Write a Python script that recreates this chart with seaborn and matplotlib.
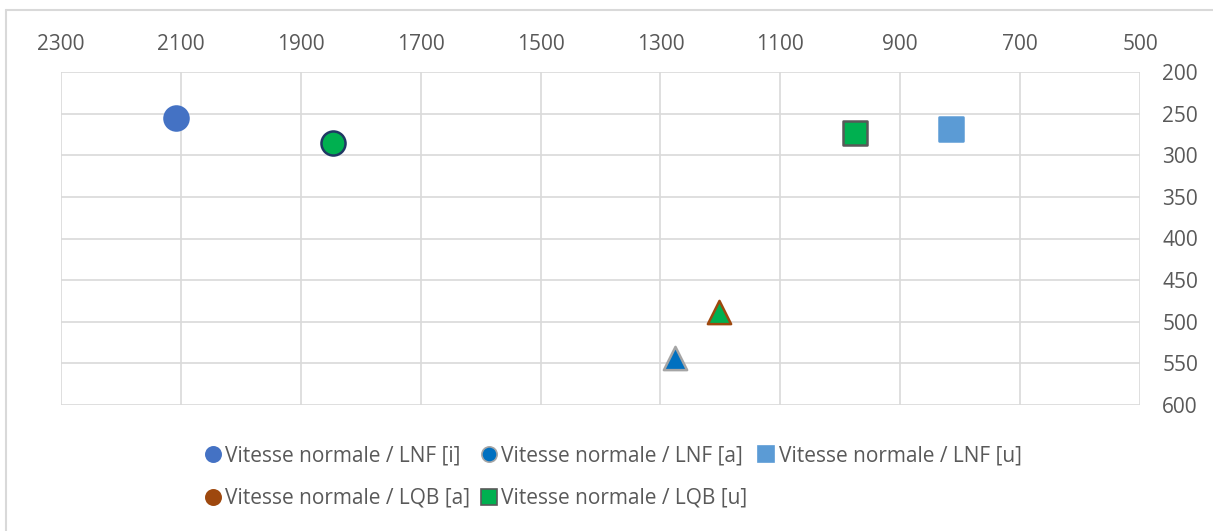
import numpy as np
import pandas as pd
import matplotlib
matplotlib.use('Agg')
import matplotlib.pyplot as plt
import seaborn as sns
from matplotlib.lines import Line2D

# Données (F2 en abscisse, F1 en ordonnée)
series_names = ['Vitesse normale / LNF [i]', 'Vitesse normale / LQB [i]',
                'Vitesse normale / LNF [a]', 'Vitesse normale / LQB [a]',
                'Vitesse normale / LNF [u]', 'Vitesse normale / LQB [u]']
f2_values = [2108, 1847, 1276, 1202, 815, 976]
f1_values = [255, 285, 544, 488, 268, 273]

x_ticks = [2300, 2100, 1900, 1700, 1500, 1300, 1100, 900, 700, 500]
y_ticks = [200, 250, 300, 350, 400, 450, 500, 550, 600]

# Style des marqueurs (couleur, contour, forme)
styles = {
    'Vitesse normale / LNF [i]': ('#4472C4', '#4472C4', 'o'),
    'Vitesse normale / LQB [i]': ('#00B050', '#203864', 'o'),
    'Vitesse normale / LNF [a]': ('#0070C0', '#A5A5A5', '^'),
    'Vitesse normale / LQB [a]': ('#00B050', '#9E480E', '^'),
    'Vitesse normale / LNF [u]': ('#5B9BD5', '#5B9BD5', 's'),
    'Vitesse normale / LQB [u]': ('#00B050', '#595959', 's'),
}
sizes = {'o': 300, '^': 280, 's': 300}

df = pd.DataFrame({'serie': series_names, 'F2': f2_values, 'F1': f1_values})

sns.set_theme(style='white')
plt.rcParams['font.family'] = ['Open Sans', 'DejaVu Sans']
text_color = '#595959'
fs = 15

fig = plt.figure(figsize=(12.13, 5.31), dpi=100)
ax = fig.add_axes([61 / 1213, 1 - 405 / 531, (1140 - 61) / 1213, (405 - 72) / 531])

for name in series_names:
    face, edge, marker = styles[name]
    sub = df[df['serie'] == name]
    sns.scatterplot(data=sub, x='F2', y='F1', ax=ax, color=face, edgecolor=edge,
                    marker=marker, s=sizes[marker], linewidth=1.8, zorder=3, legend=False)

ax.set_xlim(2300, 500)
ax.set_ylim(600, 200)
ax.set_xticks(x_ticks)
ax.set_yticks(y_ticks)
ax.xaxis.tick_top()
ax.yaxis.tick_right()
ax.tick_params(axis='both', length=0, labelsize=fs, colors=text_color)
ax.tick_params(axis='x', pad=12)
ax.tick_params(axis='y', pad=16)
ax.set_xlabel('')
ax.set_ylabel('')
ax.grid(True, color='#D9D9D9', linewidth=1.2)
for sp in ax.spines.values():
    sp.set_visible(False)

# Légende (telle qu'elle apparaît dans l'original)
def circle(face, edge):
    return Line2D([], [], linestyle='none', marker='o', markersize=11,
                  markerfacecolor=face, markeredgecolor=edge, markeredgewidth=1.2)

def square(face, edge):
    return Line2D([], [], linestyle='none', marker='s', markersize=11,
                  markerfacecolor=face, markeredgecolor=edge, markeredgewidth=1.2)

h_i = circle('#4472C4', '#4472C4')
h_a = circle('#0070C0', '#A5A5A5')
h_u = square('#5B9BD5', '#5B9BD5')
h_qa = circle('#9E480E', '#9E480E')
h_qu = square('#00B050', '#595959')
handles = [h_i, h_qa, h_a, h_qu, h_u]
labels = ['Vitesse normale / LNF [i]', 'Vitesse normale / LQB [a]',
          'Vitesse normale / LNF [a]', 'Vitesse normale / LQB [u]',
          'Vitesse normale / LNF [u]']
leg = fig.legend(handles, labels, ncol=3, loc='center', bbox_to_anchor=(613 / 1213, 1 - 477 / 531),
                 frameon=False, fontsize=fs, handlelength=0.8, handletextpad=0.2,
                 columnspacing=0.5, labelspacing=1.05, alignment='left')
for t in leg.get_texts():
    t.set_color(text_color)

# Bordure du graphique
fig.add_artist(Line2D([6 / 1213, 6 / 1213], [0, 1 - 10 / 531], transform=fig.transFigure,
                      color='#D9D9D9', linewidth=1.5))
fig.add_artist(Line2D([6 / 1213, 1], [1 - 10 / 531, 1 - 10 / 531], transform=fig.transFigure,
                      color='#D9D9D9', linewidth=1.5))

fig.savefig('out.png', dpi=100, facecolor='white')
